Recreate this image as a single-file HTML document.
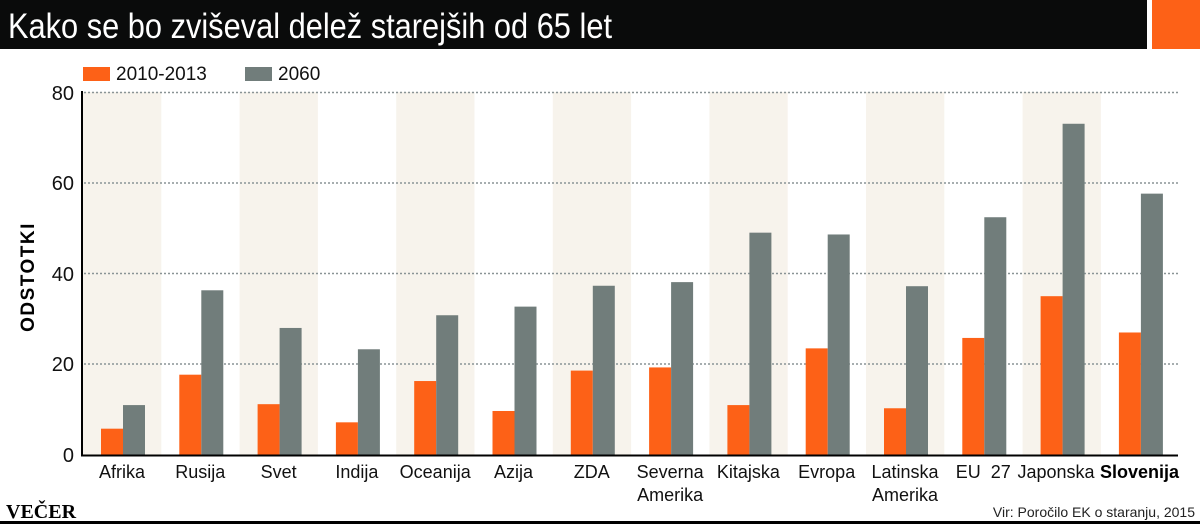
<!DOCTYPE html>
<html><head><meta charset="utf-8"><style>
html,body{margin:0;padding:0;background:#fff}
svg{display:block}
</style></head><body>
<svg width="1200" height="526" xmlns="http://www.w3.org/2000/svg" font-family="Liberation Sans, sans-serif">
<rect x="0" y="0" width="1147" height="49" fill="#0a0b0b"/>
<rect x="1152" y="0" width="48" height="49" fill="#fd6117"/>
<text x="8" y="38" font-family="Liberation Sans Narrow, Liberation Sans, sans-serif" font-size="35" fill="#fff" textLength="604" lengthAdjust="spacingAndGlyphs">Kako se bo zviševal delež starejših od 65 let</text>
<rect x="83" y="67" width="27" height="14" fill="#fd6117"/>
<text x="116" y="80" font-size="19" fill="#111">2010-2013</text>
<rect x="245" y="67" width="27" height="14" fill="#717d7b"/>
<text x="278" y="80" font-size="19" fill="#111">2060</text>
<g id="bands"></g>
<g id="grid" stroke="#8a9496" stroke-width="1.5" stroke-dasharray="2,2">
<line x1="84" x2="1180" y1="92.5" y2="92.5"/>
<line x1="84" x2="1180" y1="183" y2="183"/>
<line x1="84" x2="1180" y1="273.5" y2="273.5"/>
<line x1="84" x2="1180" y1="364" y2="364"/>
</g>
<g id="bars"></g>
<line x1="82" y1="91" x2="82" y2="456" stroke="#000" stroke-width="2"/>
<line x1="81" y1="455.5" x2="1178" y2="455.5" stroke="#000" stroke-width="2"/>
<g font-size="20" fill="#111" text-anchor="end">
<text x="74" y="100">80</text><text x="74" y="190">60</text><text x="74" y="281">40</text><text x="74" y="371">20</text><text x="74" y="462">0</text>
</g>
<text transform="translate(34,277) rotate(-90)" font-size="19" font-weight="bold" text-anchor="middle" fill="#000" letter-spacing="1.5">ODSTOTKI</text>
<g id="labels" font-size="18" fill="#111" text-anchor="middle"></g>
<text x="6" y="518" font-family="Liberation Serif, serif" font-weight="bold" font-size="20" fill="#000">VEČER</text>
<text x="1195" y="517" font-family="Liberation Sans Narrow, Liberation Sans, sans-serif" font-size="14" fill="#222" text-anchor="end">Vir: Poročilo EK o staranju, 2015</text>
<rect x="0" y="521" width="1200" height="3" fill="#000"/>
<script>
var d=[["Afrika",5.8,11],["Rusija",17.7,36.3],["Svet",11.2,28],["Indija",7.2,23.3],["Oceanija",16.3,30.8],["Azija",9.7,32.7],["ZDA",18.6,37.3],["Severna|Amerika",19.3,38.1],["Kitajska",11,49],["Evropa",23.5,48.6],["Latinska|Amerika",10.3,37.2],["EU\u00a0\u00a027",25.8,52.4],["Japonska",35,73],["Slovenija",27,57.6]];
var ns="http://www.w3.org/2000/svg",k=4.5375,base=455;
function el(p,t,a,txt){var e=document.createElementNS(ns,t);for(var i in a)e.setAttribute(i,a[i]);if(txt!=null)e.textContent=txt;document.getElementById(p).appendChild(e);return e;}
d.forEach(function(r,i){var x0=83+i*78.3;
if(i%2==0)el("bands","rect",{x:x0,y:92,width:78.3,height:363,fill:"#f7f3ec"});
var h1=r[1]*k,h2=r[2]*k;
el("bars","rect",{x:x0+18,y:base-h1,width:22,height:h1,fill:"#fd6117"});
el("bars","rect",{x:x0+40,y:base-h2,width:22,height:h2,fill:"#717d7b"});
var cx=x0+39; if(i==12)cx=1056;
var L=r[0].split("|");L.forEach(function(s,j){var t=el("labels","text",{x:cx,y:478+j*23},s);if(i==13){t.setAttribute("font-weight","bold");t.setAttribute("fill","#000");t.setAttribute("text-anchor","end");t.setAttribute("x","1179");}});
});
</script>
</svg>
</body></html>
